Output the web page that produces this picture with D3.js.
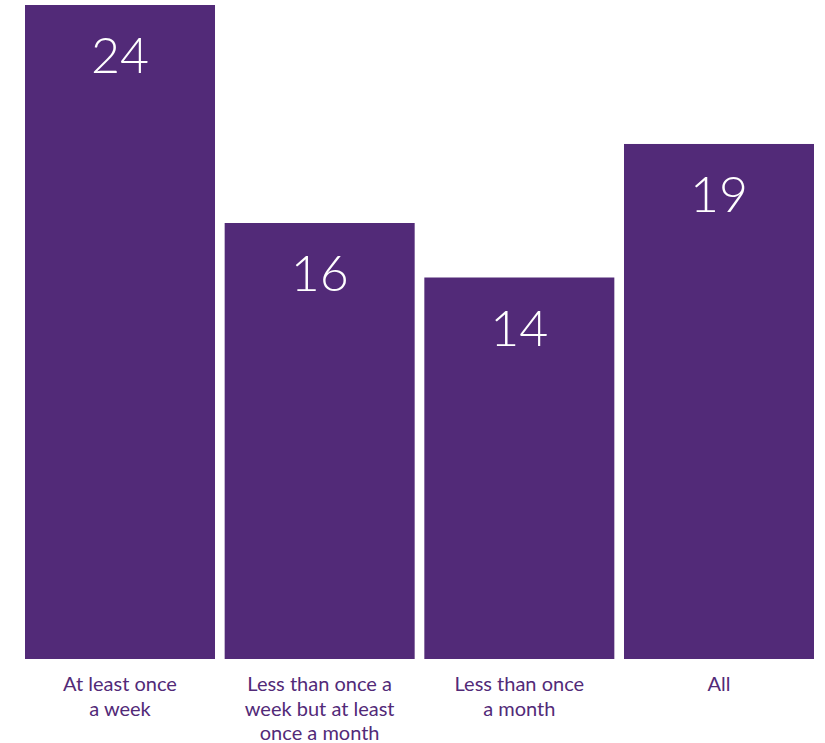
<!DOCTYPE html>
<html><head><meta charset="utf-8">
<script src="https://cdn.jsdelivr.net/npm/d3@7"></script>
<style>body{margin:0;background:#fff;} svg{display:block;}</style>
</head><body>
<script>
const categories = [
  ["At least once", "a week"],
  ["Less than once a", "week but at least", "once a month"],
  ["Less than once", "a month"],
  ["All"]
];
const values = [24, 16, 14, 18.9];
const valueLabels = ["24", "16", "14", "19"];

const W = 825, H = 743;
const color = "#522a78";
const svg = d3.select("body").append("svg").attr("width", W).attr("height", H);

const x = d3.scaleBand().domain(d3.range(values.length)).range([25, 814]).paddingInner(0.0484).paddingOuter(0);
const y = d3.scaleLinear().domain([0, 24]).range([659, 5]);

svg.selectAll("rect.bar").data(values).join("rect")
  .attr("class", "bar")
  .attr("x", (d, i) => x(i))
  .attr("width", x.bandwidth())
  .attr("y", d => y(d))
  .attr("height", d => y(0) - y(d))
  .attr("fill", color);

svg.selectAll("text.val").data(values).join("text")
  .attr("class", "val")
  .attr("x", (d, i) => x(i) + x.bandwidth() / 2)
  .attr("y", d => y(d) + 68)
  .attr("text-anchor", "middle")
  .attr("fill", "#fff")
  .attr("font-family", "Lato, 'Open Sans', sans-serif")
  .attr("font-weight", 300)
  .attr("font-size", 50)
  .text((d, i) => valueLabels[i]);

const lab = svg.selectAll("text.cat").data(categories).join("text")
  .attr("class", "cat")
  .attr("text-anchor", "middle")
  .attr("fill", color)
  .attr("font-family", "Lato, 'Open Sans', sans-serif")
  .attr("font-size", 20);
lab.each(function(lines, i) {
  d3.select(this).selectAll("tspan").data(lines).join("tspan")
    .attr("x", x(i) + x.bandwidth() / 2)
    .attr("y", (l, j) => 691 + j * 24.5)
    .text(l => l);
});
</script>
</body></html>
